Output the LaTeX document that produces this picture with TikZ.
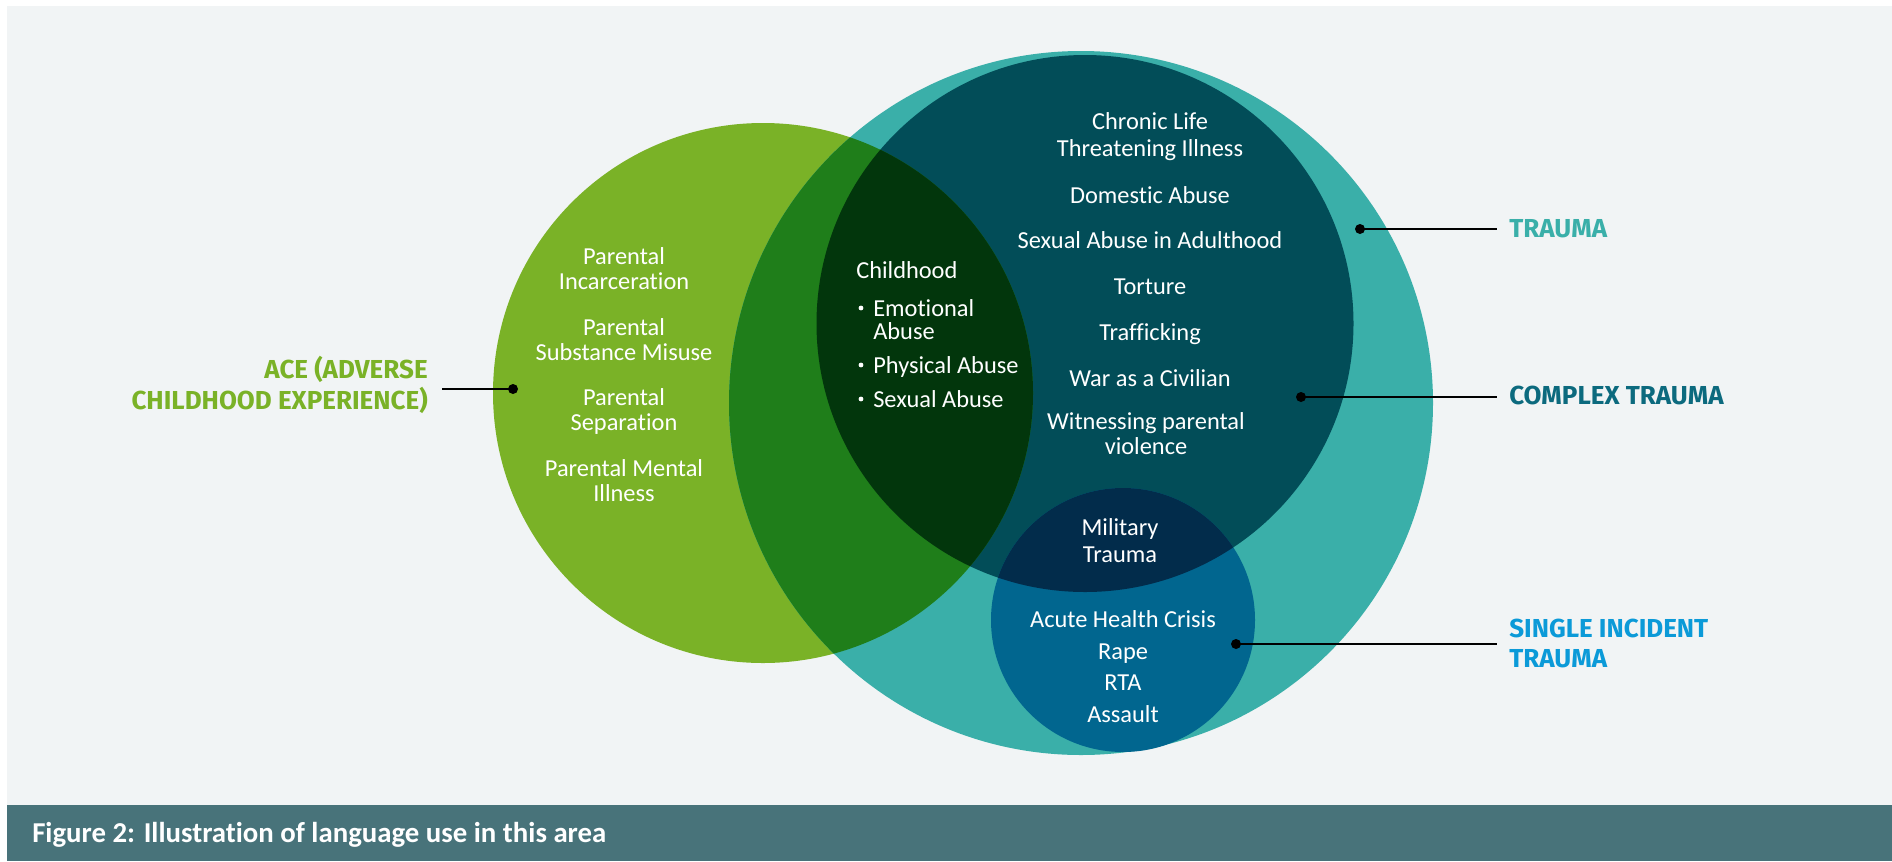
\documentclass[tikz,border=0pt]{standalone}
\usepackage{fontspec}
\newfontfamily\bodyfont{Carlito}[Ligatures=NoCommon]
\newfontfamily\labelfont{Fira Sans}
\definecolor{bg}{HTML}{F1F4F5}
\definecolor{footer}{HTML}{48737A}
\definecolor{aceg}{HTML}{7AB227}
\definecolor{teal}{HTML}{3AAFA9}
\definecolor{cplx}{HTML}{024D58}
\definecolor{sing}{HTML}{01668F}
\definecolor{singcplx}{HTML}{022C4B}
\definecolor{aceteal}{HTML}{1F7E1A}
\definecolor{acecplx}{HTML}{02360C}
\definecolor{cplxlab}{HTML}{0C6A7E}
\definecolor{singlab}{HTML}{0B9AD8}
\tikzset{
  body/.style={font=\bodyfont\fontsize{18.3}{21}\selectfont, text=white, inner sep=0pt, anchor=base},
  bodyl/.style={body, anchor=base west},
  bul/.style={circle, fill=white, inner sep=0pt, minimum size=3.6pt},
  lab/.style={font=\labelfont\bfseries\fontsize{19.5}{22}\selectfont, inner sep=0pt, anchor=base west},
  labr/.style={lab, anchor=base east},
  dotmark/.style={circle, fill=black, inner sep=0pt, minimum size=7.5pt},
  conn/.style={line width=1.2pt, draw=black},
}
\begin{document}
\begin{tikzpicture}[x=0.75pt, y=-0.75pt]
\useasboundingbox (0,0) rectangle (1892,861);
\fill[white] (0,0) rectangle (1892,861);
\fill[bg] (7,6) rectangle (1892,805);
\fill[footer] (7,805) rectangle (1892,861);
% circles
\fill[aceg] (763,393) circle (270);
\fill[teal] (1081,403) circle (352);
\fill[cplx] (1085,323.5) circle (268.5);
\fill[sing] (1123,620) circle (132);
\begin{scope}
  \clip (1085,323.5) circle (268.5);
  \fill[singcplx] (1123,620) circle (132);
\end{scope}
\begin{scope}
  \clip (1081,403) circle (352);
  \fill[aceteal] (763,393) circle (270);
\end{scope}
\begin{scope}
  \clip (1085,323.5) circle (268.5);
  \fill[acecplx] (763,393) circle (270);
\end{scope}
% ACE list
\node[body] (a1) at (624,264) {Parental};
\node[body] (a2) at (624,289) {Incarceration};
\node[body] (a3) at (624,335) {Parental};
\node[body] (a4) at (624,360) {Substance Misuse};
\node[body] (a5) at (624,405) {Parental};
\node[body] (a6) at (624,430) {Separation};
\node[body] (a7) at (624,476) {Parental Mental};
\node[body] (a8) at (624,501) {Illness};
% childhood list
\node[bodyl] (c0) at (856,278) {Childhood};
\node[bodyl] (c1) at (873,316) {Emotional};
\node[bodyl] (c2) at (873,339) {Abuse};
\node[bodyl] (c3) at (873,373) {Physical Abuse};
\node[bodyl] (c4) at (873,407) {Sexual Abuse};
\node[bul] (b1) at (861,308) {};
\node[bul] (b3) at (861,365) {};
\node[bul] (b4) at (861,399) {};
% complex list
\node[body] (k1) at (1150,129) {Chronic Life};
\node[body] (k2) at (1150,156) {Threatening Illness};
\node[body] (k3) at (1150,203) {Domestic Abuse};
\node[body] (k4) at (1150,248) {Sexual Abuse in Adulthood};
\node[body] (k5) at (1150,294) {Torture};
\node[body] (k6) at (1150,340) {Trafficking};
\node[body] (k7) at (1150,386) {War as a Civilian};
\node[body] (k8) at (1146,429) {Witnessing parental};
\node[body] (k9) at (1146,454) {violence};
% military
\node[body] (m1) at (1120,535) {Military};
\node[body] (m2) at (1120,562) {Trauma};
% single incident
\node[body] (s1) at (1123,627) {Acute Health Crisis};
\node[body] (s2) at (1123,659) {Rape};
\node[body] (s3) at (1123,690) {RTA};
\node[body] (s4) at (1123,722) {Assault};
% labels
\node[labr, text=aceg] (acelab1) at (428,378) {ACE (ADVERSE};
\node[labr, text=aceg] (acelab2) at (428,409) {CHILDHOOD EXPERIENCE)};
\node[lab, text=teal] (tlab) at (1509,237) {TRAUMA};
\node[lab, text=cplxlab] (clab) at (1509,404) {COMPLEX TRAUMA};
\node[lab, text=singlab] (slab1) at (1509,637) {SINGLE INCIDENT};
\node[lab, text=singlab] (slab2) at (1509,667) {TRAUMA};
% dots and connectors
\node[dotmark] (acedot) at (513,389) {};
\node[dotmark] (tdot) at (1360,229) {};
\node[dotmark] (cdot) at (1301,397) {};
\node[dotmark] (sdot) at (1236,644) {};
\draw[conn, shorten >=10.5pt] (acedot.center) -- (acedot.center -| acelab2.east);
\draw[conn, shorten >=9pt] (tdot.center) -- (tdot.center -| tlab.west);
\draw[conn, shorten >=9pt] (cdot.center) -- (cdot.center -| clab.west);
\draw[conn, shorten >=9pt] (sdot.center) -- (sdot.center -| slab1.west);
% footer
\node[font=\bodyfont\bfseries\fontsize{21.6}{24}\selectfont, text=white, inner sep=0pt, anchor=base west] (cap) at (32,842) {Figure 2: Illustration of language use in this area};
\end{tikzpicture}
\end{document}
